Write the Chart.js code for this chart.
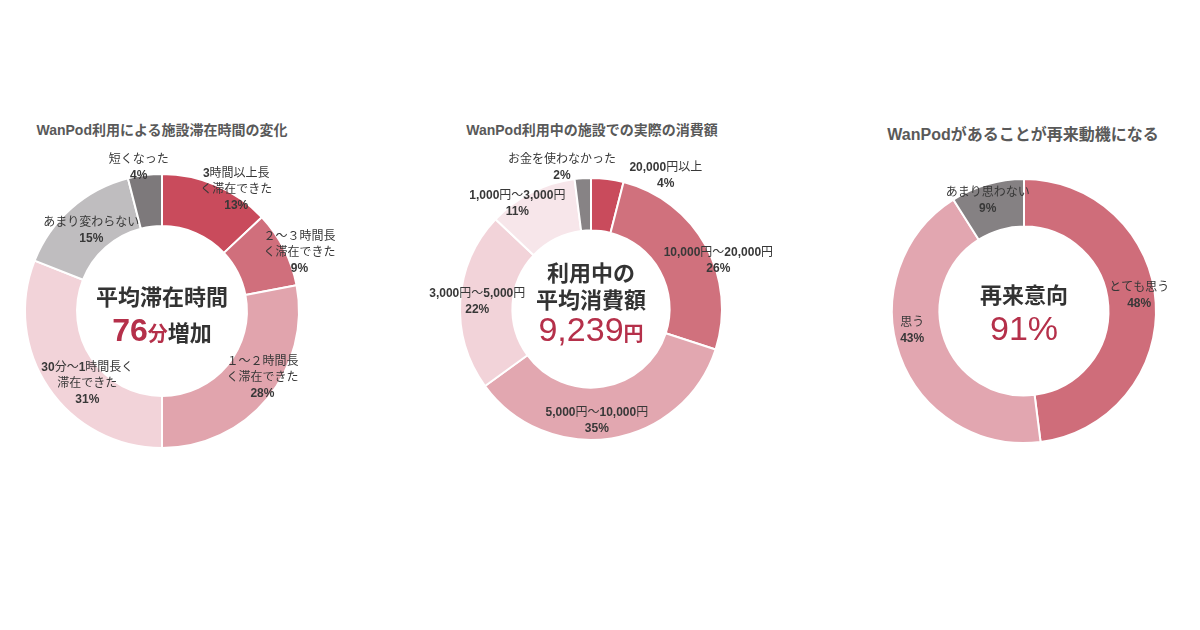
<!DOCTYPE html>
<html>
<head>
<meta charset="utf-8">
<script src="https://cdn.jsdelivr.net/npm/chart.js@4"></script>
<style>
  html, body { margin: 0; padding: 0; width: 1200px; height: 630px; background: #fff; overflow: hidden; }
  .box { position: absolute; width: 400px; height: 400px; }
  .title { position: absolute; text-align: center; font-weight: bold; color: #595959;
           font-family: "Liberation Sans", "Noto Sans CJK JP", sans-serif; white-space: nowrap; }
</style>
</head>
<body>
<div class="title" style="left:-38px;width:400px;top:119px;font-size:14px;">WanPod利用による施設滞在時間の変化</div>
<div class="title" style="left:392px;width:400px;top:119px;font-size:14px;">WanPod利用中の施設での実際の消費額</div>
<div class="title" style="left:823px;width:400px;top:121px;font-size:16px;">WanPodがあることが再来動機になる</div>

<div class="box" style="left:-38px;top:111px;"><canvas id="stayChart"></canvas></div>
<div class="box" style="left:391px;top:109px;"><canvas id="spendChart"></canvas></div>
<div class="box" style="left:824px;top:111px;"><canvas id="revisitChart"></canvas></div>

<script>
// 滞在時間の変化
const stayLabels = [["3時間以上長", "く滞在できた"], ["２～３時間長", "く滞在できた"], ["１～２時間長", "く滞在できた"],
  ["30分～1時間長く", "滞在できた"], ["あまり変わらない"], ["短くなった"]];
const stayValues = [13, 9, 28, 31, 15, 4];

// 消費額
const spendLabels = [["20,000円以上"], ["10,000円～20,000円"], ["5,000円～10,000円"],
  ["3,000円～5,000円"], ["1,000円～3,000円"], ["お金を使わなかった"]];
const spendValues = [4, 26, 35, 22, 11, 2];

// 再来意向
const revisitLabels = [["とても思う"], ["思う"], ["あまり思わない"]];
const revisitValues = [48, 43, 9];

const FONT = '"Liberation Sans", "Noto Sans CJK JP", sans-serif';

// half-width runs are drawn bold, Japanese runs regular
function runs(text) {
  return text.match(/[\x20-\x7e]+|[^\x20-\x7e]+/g).map(s => [s, /[\x20-\x7e]/.test(s) ? "bold" : "normal"]);
}

function drawMixed(ctx, text, cx, y, size) {
  const parts = runs(text);
  let w = 0;
  parts.forEach(p => { ctx.font = p[1] + " " + size + "px " + FONT; w += ctx.measureText(p[0]).width; });
  let x = cx - w / 2;
  parts.forEach(p => {
    ctx.font = p[1] + " " + size + "px " + FONT;
    ctx.fillText(p[0], x, y);
    x += ctx.measureText(p[0]).width;
  });
}

// label drawing: angle of the arc middle (+ shift), at a fraction of the outer radius
const sliceLabels = {
  id: "sliceLabels",
  afterDatasetsDraw(chart, args, opts) {
    const ctx = chart.ctx;
    const meta = chart.getDatasetMeta(0);
    const values = chart.data.datasets[0].data;
    ctx.save();
    ctx.textAlign = "left";
    ctx.textBaseline = "middle";
    ctx.fillStyle = "#383838";
    meta.data.forEach((arc, i) => {
      const mid = (arc.startAngle + arc.endAngle) / 2 + (opts.shift[i] || 0) * Math.PI / 180;
      const r = arc.outerRadius * opts.dist[i];
      const x = arc.x + Math.cos(mid) * r;
      const y = arc.y + Math.sin(mid) * r;
      const lines = chart.data.labels[i].concat([values[i] + "%"]);
      const lh = 16;
      const y0 = y - (lines.length - 1) * lh / 2;
      lines.forEach((t, k) => drawMixed(ctx, t, x, y0 + k * lh, 12));
    });
    ctx.restore();
  }
};

// center text: rows of [text, size, color, weight] pieces
const centerText = {
  id: "centerText",
  afterDraw(chart, args, opts) {
    const ctx = chart.ctx;
    const arc = chart.getDatasetMeta(0).data[0];
    ctx.save();
    ctx.textBaseline = "alphabetic";
    ctx.textAlign = "left";
    opts.rows.forEach(row => {
      let w = 0;
      row.parts.forEach(p => { ctx.font = p[3] + " " + p[1] + "px " + FONT; w += ctx.measureText(p[0]).width; });
      let x = arc.x - w / 2;
      row.parts.forEach(p => {
        ctx.font = p[3] + " " + p[1] + "px " + FONT;
        ctx.fillStyle = p[2];
        ctx.fillText(p[0], x, arc.y + row.dy);
        x += ctx.measureText(p[0]).width;
      });
    });
    ctx.restore();
  }
};

function makeDonut(id, labels, values, colors, radius, cutout, labelOpts, rows) {
  return new Chart(document.getElementById(id), {
    type: "doughnut",
    data: {
      labels: labels,
      datasets: [{ data: values, backgroundColor: colors, borderColor: "#fff", borderWidth: 2 }]
    },
    options: {
      responsive: true,
      maintainAspectRatio: false,
      animation: false,
      cutout: cutout,
      layout: { padding: 200 - radius },
      plugins: {
        legend: { display: false },
        tooltip: { enabled: false },
        sliceLabels: labelOpts,
        centerText: { rows: rows }
      }
    },
    plugins: [sliceLabels, centerText]
  });
}

const RED = "#b5304a";
const DARK = "#333";

makeDonut("stayChart", stayLabels, stayValues,
  ["#c94b5c", "#d06f7c", "#e1a4ad", "#f2d3d9", "#bfbdbf", "#7d797b"], 138, "62%",
  { dist: [1.04, 1.09, 0.88, 0.76, 0.78, 1.06], shift: [8, 4, -6, -10, 0, -2] },
  [
    { dy: -6, parts: [["平均滞在時間", 22, DARK, "bold"]] },
    { dy: 30, parts: [["76", 32, RED, "bold"], ["分", 20, RED, "bold"], ["増加", 22, DARK, "bold"]] }
  ]);

makeDonut("spendChart", spendLabels, spendValues,
  ["#c94b5c", "#d0717d", "#e2a7b0", "#f2d3d9", "#f7e6ea", "#878385"], 132, "60%",
  { dist: [1.17, 1.04, 0.85, 0.87, 0.98, 1.1], shift: [22, 8, 6, 0, -8, -8] },
  [
    { dy: -28, parts: [["利用中の", 22, DARK, "bold"]] },
    { dy: -1, parts: [["平均消費額", 22, DARK, "bold"]] },
    { dy: 32, parts: [["9,239", 34, RED, "normal"], ["円", 20, RED, "bold"]] }
  ]);

makeDonut("revisitChart", revisitLabels, revisitValues,
  ["#cf6d7a", "#e2a6b0", "#858183"], 133, "64%",
  { dist: [0.88, 0.86, 0.88], shift: [-4, 10, -2] },
  [
    { dy: -8, parts: [["再来意向", 22, DARK, "bold"]] },
    { dy: 29, parts: [["91%", 34, RED, "normal"]] }
  ]);
</script>
</body>
</html>
